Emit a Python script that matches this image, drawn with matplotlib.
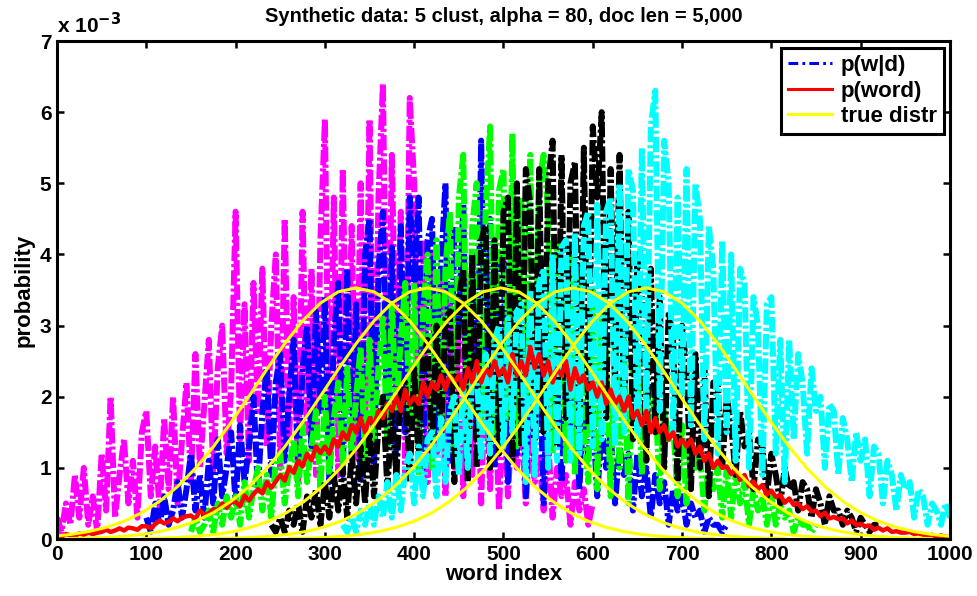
import numpy as np
import matplotlib
matplotlib.use("Agg")
import matplotlib.pyplot as plt
from matplotlib.lines import Line2D

plt.rcParams["font.family"] = ["Liberation Sans", "DejaVu Sans"]
plt.rcParams["font.weight"] = "bold"
plt.rcParams["lines.scale_dashes"] = False

# p(w|d) per cluster, sampled every 5 word indices, in units of 1e-4
magenta_x0, magenta_x1 = 0, 600
magenta_vals = [
    3, 1, 5, 2, 9, 3, 10, 2, 6, 1,
    12, 4, 20, 3, 9, 14, 5, 11, 3, 15,
    18, 6, 13, 4, 17, 7, 20, 5, 14, 22,
    8, 26, 10, 19, 28, 9, 24, 30, 12, 21,
    46, 14, 33, 11, 36, 18, 38, 13, 30, 40,
    10, 45, 14, 34, 8, 46, 15, 38, 9, 42,
    59, 12, 48, 9, 52, 18, 44, 11, 50, 14,
    59, 10, 48, 64, 14, 54, 20, 46, 9, 62,
    50, 14, 42, 8, 40, 12, 36, 6, 34, 10,
    32, 6, 28, 9, 30, 5, 26, 7, 22, 4,
    20, 6, 18, 10, 17, 5, 15, 8, 12, 4,
    14, 3, 10, 6, 9, 2, 8, 4, 7, 2,
    5,
]
blue_x0, blue_x1 = 100, 750
blue_vals = [
    3, 1, 5, 2, 6, 2, 4, 8, 3, 7,
    12, 4, 9, 3, 11, 5, 14, 6, 10, 15,
    5, 16, 8, 13, 20, 7, 18, 24, 9, 22,
    26, 11, 20, 28, 10, 24, 30, 13, 32, 18,
    34, 8, 28, 36, 9, 38, 12, 33, 8, 40,
    45, 10, 38, 46, 13, 41, 8, 44, 15, 48,
    36, 48, 10, 42, 45, 14, 38, 50, 11, 44,
    30, 47, 9, 40, 14, 56, 18, 45, 10, 38,
    40, 8, 35, 12, 32, 6, 30, 10, 28, 5,
    26, 14, 24, 8, 22, 16, 20, 7, 19, 12,
    18, 6, 16, 10, 15, 5, 13, 9, 12, 4,
    12, 6, 10, 3, 9, 5, 8, 2, 7, 4,
    6, 2, 5, 3, 4, 1, 3, 2, 2, 1,
    2,
]
green_x0, green_x1 = 150, 850
green_vals = [
    1, 3, 1, 2, 4, 1, 5, 2, 6, 3,
    6, 2, 8, 3, 7, 10, 4, 9, 3, 11,
    12, 5, 10, 14, 6, 16, 8, 13, 18, 7,
    20, 9, 17, 22, 10, 24, 12, 20, 27, 11,
    28, 14, 24, 31, 13, 33, 18, 28, 36, 16,
    36, 9, 32, 40, 10, 42, 13, 38, 46, 11,
    48, 54, 13, 44, 50, 15, 46, 58, 14, 49,
    52, 17, 57, 13, 48, 20, 54, 15, 50, 54,
    46, 12, 42, 36, 11, 40, 9, 38, 15, 8,
    35, 7, 32, 26, 6, 30, 10, 28, 5, 26,
    25, 9, 22, 16, 20, 7, 18, 14, 16, 6,
    16, 5, 14, 10, 12, 4, 11, 7, 10, 3,
    10, 3, 9, 5, 8, 2, 7, 4, 6, 2,
    6, 2, 5, 3, 4, 1, 3, 2, 2, 1,
    2,
]
black_x0, black_x1 = 240, 920
black_vals = [
    2, 1, 3, 1, 4, 2, 5, 1, 6, 3,
    7, 2, 8, 3, 9, 4, 10, 3, 12, 5,
    13, 5, 15, 6, 16, 20, 7, 18, 9, 21,
    22, 8, 24, 11, 26, 28, 12, 30, 14, 31,
    32, 8, 34, 38, 8, 40, 10, 42, 44, 10,
    42, 12, 46, 48, 11, 50, 13, 52, 47, 14,
    52, 15, 50, 56, 13, 54, 17, 50, 53, 15,
    55, 16, 58, 48, 60, 17, 52, 22, 54, 16,
    46, 14, 40, 34, 11, 38, 15, 34, 10, 32,
    28, 8, 30, 24, 7, 26, 10, 24, 6, 22,
    22, 10, 20, 16, 9, 18, 13, 15, 7, 14,
    13, 6, 12, 9, 5, 10, 7, 8, 4, 8,
    7, 3, 7, 5, 2, 6, 4, 4, 2, 4,
    3, 1, 3, 2, 1, 2, 2,
]
cyan_x0, cyan_x1 = 320, 1000
cyan_vals = [
    2, 1, 3, 1, 4, 2, 5, 2, 6, 3,
    8, 3, 9, 4, 10, 12, 5, 13, 6, 14,
    15, 6, 17, 8, 18, 20, 9, 22, 10, 23,
    24, 11, 26, 12, 28, 30, 13, 31, 15, 32,
    33, 8, 35, 9, 36, 38, 10, 40, 11, 41,
    42, 11, 43, 12, 44, 46, 13, 47, 14, 46,
    48, 13, 50, 15, 52, 49, 14, 55, 17, 58,
    63, 18, 56, 50, 15, 48, 20, 52, 16, 50,
    45, 14, 44, 38, 12, 42, 15, 40, 11, 38,
    36, 10, 34, 30, 9, 33, 34, 12, 28, 8,
    28, 14, 26, 22, 12, 24, 18, 20, 10, 19,
    18, 9, 17, 14, 8, 15, 11, 14, 6, 13,
    12, 5, 11, 9, 4, 9, 7, 8, 3, 7,
    6, 2, 5, 4, 2, 5, 3,
]

# p(word), every 5 word indices, units of 1e-4
word_vals = [
    0.6, 0.3, 0.7, 0.5, 0.4, 0.8, 0.6, 0.9, 0.7, 0.9,
    1.0, 1.3, 1.0, 1.2, 1.5, 1.2, 1.6, 1.5, 1.3, 1.8,
    1.8, 1.5, 2.1, 2.6, 2.2, 2.4, 2.9, 2.5, 3.0, 3.2,
    3.3, 2.8, 4.0, 3.4, 3.6, 4.2, 4.1, 5.0, 4.4, 5.2,
    5.2, 4.6, 6.1, 5.4, 6.3, 7.0, 6.4, 8.0, 7.2, 8.1,
    9.0, 8.2, 10.1, 9.3, 11.0, 10.2, 12.0, 11.1, 13.0, 12.1,
    13, 12, 14, 13, 15, 14, 16, 15, 17, 15,
    17, 16, 18, 17, 19, 18, 20, 18, 21, 19,
    20, 19, 22, 20, 22, 21, 23, 21, 23, 22,
    23, 21, 24, 22, 25, 22, 24, 23, 25, 23,
    24, 22, 26, 23, 25, 23, 27, 24, 26, 23,
    25, 22, 24, 23, 25, 21, 24, 22, 23, 21,
    22, 20, 22, 19, 21, 19, 20, 18, 20, 17,
    18, 16, 18, 15, 17, 15, 16, 14, 15, 13,
    14, 13, 14, 12, 13, 11, 12, 10, 11, 10,
    10.2, 9.1, 9.8, 8.3, 9.0, 7.4, 8.1, 7.0, 7.6, 6.2,
    6.8, 5.9, 6.2, 5.1, 5.7, 4.8, 5.0, 4.2, 4.6, 3.9,
    4.0, 3.2, 3.7, 2.9, 3.1, 2.8, 2.9, 2.2, 2.6, 2.0,
    2.1, 1.8, 1.9, 1.3, 1.6, 1.2, 1.5, 1.0, 1.1, 0.9,
    0.9, 1.0, 0.7, 0.8, 0.6, 0.4, 0.6, 0.3, 0.5, 0.3, 0.3,
]

# true distributions: shared shape (x 1e-3) at offsets 0..400 step 20
true_centres = [335, 415, 497, 578, 660]
true_offsets = [0, 20, 40, 60, 80, 100, 120, 140, 160, 180, 200,
                220, 240, 260, 280, 300, 320, 340, 360, 380, 400]
true_shape = [3.53, 3.475, 3.316, 3.066, 2.747, 2.386, 2.008, 1.639, 1.296,
              0.993, 0.737, 0.531, 0.370, 0.250, 0.164, 0.104, 0.064,
              0.038, 0.022, 0.012, 0.007]

clusters = [
    (magenta_x0, magenta_x1, magenta_vals, "#ff00ff"),
    (blue_x0, blue_x1, blue_vals, "#0000ff"),
    (green_x0, green_x1, green_vals, "#00ff00"),
    (black_x0, black_x1, black_vals, "#000000"),
    (cyan_x0, cyan_x1, cyan_vals, "#00ffff"),
]

fig = plt.figure(figsize=(9.78, 5.96), dpi=100)
ax = fig.add_axes([0.0583, 0.0956, 0.913, 0.8356])

# MATLAB-like dash-dot, drawn thick so the noisy documents fill in
dashdot = (11, 2.2, 2.2, 2.2)
for x0, x1, vals, col in clusters:
    xs = np.arange(x0, x1 + 1, 5)
    ax.plot(xs, np.array(vals) * 1e-4, color=col, lw=4.3, dashes=dashdot,
            solid_capstyle="butt", dash_capstyle="butt", zorder=2)

xw = np.arange(0, 1001, 5)
ax.plot(xw, np.array(word_vals) * 1e-4, color="#ff0000", lw=3.2, zorder=3)

off = np.array(true_offsets)
shape = np.array(true_shape) * 1e-3
for c in true_centres:
    xs = np.concatenate([c - off[::-1], c + off[1:]])
    ys = np.concatenate([shape[::-1], shape[1:]])
    ax.plot(xs, ys, color="#ffff00", lw=2.2, zorder=4)

ax.set_xlim(0, 1000)
ax.set_ylim(0, 7e-3)
ax.set_xticks(np.arange(0, 1001, 100))
ax.set_yticks(np.arange(0, 7.01e-3, 1e-3))
ax.set_yticklabels([str(i) for i in range(8)])
ax.tick_params(direction="in", length=5, width=1.8, top=True, right=True,
               labelsize=15, pad=4)
for lab in ax.get_xticklabels() + ax.get_yticklabels():
    lab.set_fontweight("bold")
for s in ax.spines.values():
    s.set_linewidth(2.2)
    s.set_zorder(5)

ax.text(0.0, 1.008, r"x 10$^{-3}$", transform=ax.transAxes, fontsize=15,
        fontweight="bold", ha="left", va="bottom")
ax.set_title("Synthetic data: 5 clust, alpha = 80, doc len = 5,000",
             fontsize=14.5, fontweight="bold", pad=14)
ax.set_xlabel("word index", fontsize=16, fontweight="bold", labelpad=0)
ax.set_ylabel("probability", fontsize=16, fontweight="bold", labelpad=4)

handles = [
    Line2D([], [], color="#0000ff", lw=2.2, dashes=(7, 3, 2, 3)),
    Line2D([], [], color="#ff0000", lw=2.2),
    Line2D([], [], color="#ffff00", lw=2.2),
]
leg = ax.legend(handles, ["p(w|d)", "p(word)", "true distr"], loc="upper right",
                bbox_to_anchor=(0.993, 0.985), borderaxespad=0, fancybox=False,
                framealpha=1, edgecolor="black", prop={"weight": "bold", "size": 16},
                handlelength=2.0, labelspacing=0.2, borderpad=0.3, handletextpad=0.4)
leg.get_frame().set_linewidth(2.2)
leg.set_zorder(6)

fig.savefig("out.png", dpi=100)
